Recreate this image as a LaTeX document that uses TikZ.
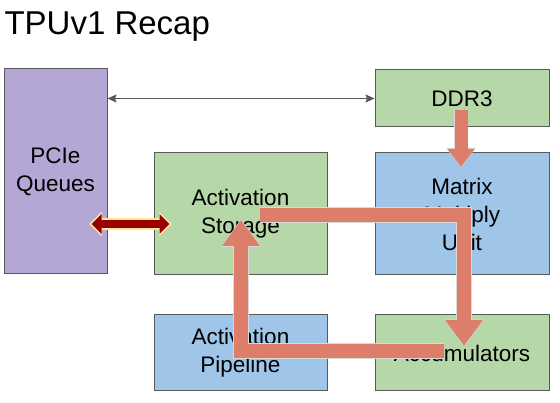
\documentclass[tikz,border=0pt]{standalone}
\usepackage{fontspec}
\setmainfont{Liberation Sans}
\usepackage{xcolor}
\usepackage{tikz}
\usetikzlibrary{arrows.meta, positioning, calc}
\definecolor{queuepurple}{HTML}{B4A7D6}
\definecolor{memgreen}{HTML}{B6D7A8}
\definecolor{unitblue}{HTML}{9FC5E8}
\definecolor{flowsalmon}{HTML}{DD7E6B}
\definecolor{busred}{HTML}{990000}
\definecolor{busyellow}{HTML}{FFE599}
\definecolor{linkgray}{HTML}{595959}
\tikzstyle{block} = [draw=black!65, line width=1pt, align=center, inner sep=0pt, font=\fontsize{22.5}{28}\selectfont]
\tikzstyle{link} = [draw=linkgray, line width=1.5pt, {Stealth[length=9pt,width=8pt,inset=1.5pt]}-{Stealth[length=9pt,width=8pt,inset=1.5pt]}]
\tikzstyle{flowedge} = [draw=black!15, line width=15.6pt, line join=miter, -{Triangle[width=38pt,length=28pt]}]
\tikzstyle{flow} = [draw=flowsalmon, line width=14pt, line join=miter, -{Triangle[width=36pt,length=26pt]}, shorten >=1pt]

\begin{document}
\begin{tikzpicture}[x=1pt,y=-1pt]
    \useasboundingbox (0,0) rectangle (560,403);

    \node[anchor=base west, font=\fontsize{33}{36}\selectfont] (title) at (1,35) {TPUv1 Recap};

    \node[block, fill=queuepurple, minimum width=103pt, minimum height=205pt] (pcie) at (55.5,171.5) {PCIe\\Queues};
    \node[block, fill=memgreen, minimum width=174pt, minimum height=57pt] (ddr) at (462,98.5) {DDR3};
    \node[block, fill=memgreen, minimum width=173pt, minimum height=122pt] (store) at (240.5,214) {Activation\\Storage};
    \node[block, fill=unitblue, minimum width=174pt, minimum height=122pt] (mmu) at (462,214) {Matrix\\Multiply\\Unit};
    \node[block, fill=unitblue, minimum width=173pt, minimum height=76pt] (pipe) at (240.5,353) {Activation\\Pipeline};
    \node[block, fill=memgreen, minimum width=174pt, minimum height=76pt] (acc) at (462,353) {Accumulators};

    % host link
    \draw[link] (pcie.east |- ddr.west) -- (ddr.west);

    % pcie <-> storage bus
    \coordinate (busL) at (89,224);
    \coordinate (busR) at (172,224);
    \draw[draw=busyellow, line width=12pt, {Triangle[width=24pt,length=13pt]}-{Triangle[width=24pt,length=13pt]}] (busL) -- (busR);
    \draw[draw=busred, line width=8pt, {Triangle[width=19pt,length=10pt]}-{Triangle[width=19pt,length=10pt]}, shorten <=2.5pt, shorten >=2.5pt] (busL) -- (busR);

    % weights from DDR3
    \coordinate (ddrout) at (461,110);
    \coordinate (mmuin) at (461,168);
    \draw[flowedge, -{Triangle[width=28pt,length=20pt]}, line width=14.6pt] (ddrout) -- (mmuin);
    \draw[flow, -{Triangle[width=26pt,length=18pt]}, line width=13pt] (ddrout) -- (mmuin);

    % storage -> mmu -> accumulators
    \coordinate (storeout) at (260,215);
    \coordinate (accin) at (464,347);
    \draw[flowedge] (storeout) -| (accin);
    \draw[flow] (storeout) -| (accin);

    % accumulators -> pipeline -> storage
    \coordinate (accout) at (444,351);
    \coordinate (storein) at (241,219);
    \draw[flowedge] (accout) -| (storein);
    \draw[flow] (accout) -| (storein);
\end{tikzpicture}
\end{document}
